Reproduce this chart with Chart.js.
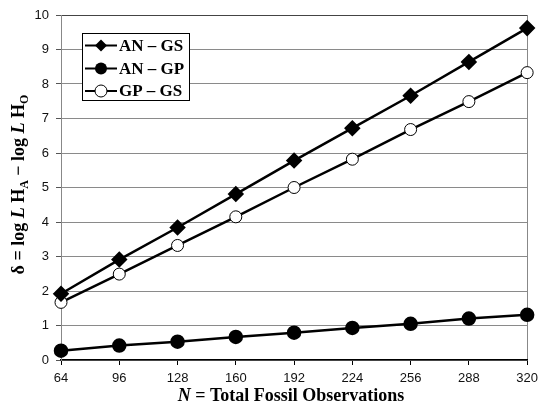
<!DOCTYPE html>
<html><head><meta charset="utf-8">
<script src="https://cdn.jsdelivr.net/npm/chart.js@4"></script>
<style>html,body{margin:0;padding:0;background:#fff}canvas{display:block}</style>
</head><body>
<canvas id="c" width="544" height="408"></canvas>
<script>
const categories = ['64', '96', '128', '160', '192', '224', '256', '288', '320'];
const anGs = [1.92, 2.91, 3.84, 4.81, 5.78, 6.72, 7.66, 8.64, 9.62];
const anGp = [0.27, 0.42, 0.53, 0.67, 0.79, 0.93, 1.05, 1.20, 1.31];
const gpGs = [1.67, 2.49, 3.32, 4.15, 5.00, 5.82, 6.68, 7.49, 8.33];
const seriesNames = ['AN – GS', 'AN – GP', 'GP – GS'];
const yMin = 0, yMax = 10, yStep = 1;

const SERIF = '"Liberation Serif", "Times New Roman", serif';
const SANS = '"Liberation Sans", Arial, sans-serif';

function drawSegments(ctx, segs, cx, baseY) {
  let total = 0;
  segs.forEach(s => { ctx.font = s.font; s.w = ctx.measureText(s.t).width; total += s.w; });
  let x = cx - total / 2;
  segs.forEach(s => { ctx.font = s.font; ctx.fillText(s.t, x, baseY + (s.dy || 0)); x += s.w; });
}

function drawMarker(ctx, kind, x, y) {
  ctx.save();
  ctx.fillStyle = '#000'; ctx.strokeStyle = '#000'; ctx.lineWidth = 1;
  ctx.beginPath();
  if (kind === 0) {
    const r = 6;
    ctx.moveTo(x, y - r); ctx.lineTo(x + r, y); ctx.lineTo(x, y + r); ctx.lineTo(x - r, y); ctx.closePath();
    ctx.fill();
  } else if (kind === 1) {
    ctx.arc(x, y, 6, 0, Math.PI * 2); ctx.fill();
  } else {
    ctx.fillStyle = '#fff';
    ctx.arc(x, y, 6, 0, Math.PI * 2); ctx.fill(); ctx.stroke();
  }
  ctx.restore();
}

const decor = {
  id: 'decor',
  afterDraw(chart) {
    const ctx = chart.ctx;
    const area = chart.chartArea;
    ctx.save();
    ctx.fillStyle = '#000';
    ctx.textBaseline = 'alphabetic';
    // x title
    drawSegments(ctx, [
      { t: 'N', font: 'italic bold 18px ' + SERIF },
      { t: ' = Total Fossil Observations', font: 'bold 18px ' + SERIF }
    ], 291, 401);
    // y title
    ctx.save();
    ctx.translate(24, (area.top + area.bottom) / 2 - 3);
    ctx.rotate(-Math.PI / 2);
    const b = 'bold 18px ' + SERIF, bi = 'italic bold 18px ' + SERIF, sb = 'bold 12px ' + SERIF;
    drawSegments(ctx, [
      { t: 'δ = log ', font: b }, { t: 'L', font: bi }, { t: ' H', font: b }, { t: 'A', font: sb, dy: 4 },
      { t: ' − log ', font: b }, { t: 'L', font: bi }, { t: ' H', font: b }, { t: 'O', font: sb, dy: 4 }
    ], 0, 0);
    ctx.restore();
    // legend
    ctx.fillStyle = '#fff';
    ctx.fillRect(82.5, 33.5, 107, 67);
    ctx.strokeStyle = '#000'; ctx.lineWidth = 1;
    ctx.strokeRect(82.5, 33.5, 107, 67);
    const rows = [45.5, 68.5, 91];
    ctx.font = 'bold 17px ' + SERIF;
    ctx.textBaseline = 'middle';
    rows.forEach((ry, i) => {
      ctx.strokeStyle = '#000'; ctx.lineWidth = 2;
      ctx.beginPath(); ctx.moveTo(85, ry); ctx.lineTo(117, ry); ctx.stroke();
      drawMarker(ctx, i, 101, ry);
      ctx.fillStyle = '#000';
      ctx.fillText(seriesNames[i], 119, ry + 1);
    });
    ctx.restore();
  }
};

new Chart(document.getElementById('c'), {
  type: 'line',
  data: {
    labels: categories,
    datasets: [
      { label: seriesNames[0], data: anGs, borderColor: '#000', borderWidth: 2.5, pointStyle: 'rectRot', pointRadius: 6.5, pointBackgroundColor: '#000', pointBorderColor: '#000', tension: 0, clip: false },
      { label: seriesNames[1], data: anGp, borderColor: '#000', borderWidth: 2.5, pointStyle: 'circle', pointRadius: 6, pointBackgroundColor: '#000', pointBorderColor: '#000', tension: 0, clip: false },
      { label: seriesNames[2], data: gpGs, borderColor: '#000', borderWidth: 2.5, pointStyle: 'circle', pointRadius: 6, pointBackgroundColor: '#fff', pointBorderColor: '#000', pointBorderWidth: 1, tension: 0, clip: false }
    ]
  },
  options: {
    responsive: false,
    devicePixelRatio: 1,
    animation: false,
    layout: { padding: { top: 15, right: 11, left: 0, bottom: 0 } },
    plugins: { legend: { display: false }, tooltip: { enabled: false } },
    scales: {
      x: {
        type: 'category',
        offset: false,
        afterFit(s) { s.height = 48; },
        grid: {
          drawOnChartArea: true,
          color: c => (c.index === categories.length - 1 ? '#888' : 'rgba(0,0,0,0)'),
          tickColor: '#000', tickLength: 5, lineWidth: 1
        },
        border: { color: '#000', width: 1.5 },
        ticks: { color: '#111', font: { family: SANS, size: 13 }, padding: 6, maxRotation: 0, autoSkip: false }
      },
      y: {
        min: yMin, max: yMax,
        afterFit(s) { s.width = 61; },
        grid: { color: c => (c.tick && c.tick.value === yMax ? '#444' : '#8a8a8a'), tickColor: '#555', tickLength: 5, lineWidth: 1 },
        border: { color: '#888', width: 1 },
        ticks: { stepSize: yStep, color: '#111', font: { family: SANS, size: 13 }, padding: 7 }
      }
    }
  },
  plugins: [decor]
});
</script>
</body></html>
